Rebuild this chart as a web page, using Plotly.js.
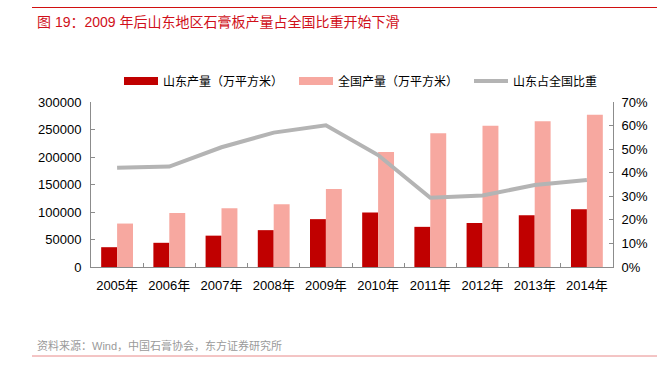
<!DOCTYPE html>
<html>
<head>
<meta charset="utf-8">
<script src="https://cdn.plot.ly/plotly-3.0.1.min.js"></script>
<style>
  html, body { margin: 0; padding: 0; background: #fff; }
  #chart { width: 657px; height: 371px; }
</style>
</head>
<body>
<div id="chart"></div>
<script>
// ---- data ----
const years = ['2005年', '2006年', '2007年', '2008年', '2009年', '2010年', '2011年', '2012年', '2013年', '2014年'];
const shandongOutput = [36000, 44000, 57000, 67000, 87000, 99000, 73000, 80000, 94000, 105000];
const nationalOutput = [79000, 98000, 107000, 114000, 142000, 209000, 243000, 257000, 265000, 277000];
const shandongShare = [0.421, 0.426, 0.508, 0.570, 0.601, 0.475, 0.294, 0.303, 0.348, 0.369];
const seriesNames = ['山东产量（万平方米）', '全国产量（万平方米）', '山东占全国比重'];
const titleText = '图 19：2009 年后山东地区石膏板产量占全国比重开始下滑';
const sourceText = '资料来源：Wind，中国石膏协会，东方证券研究所';

const RED = '#c00000';
const PINK = '#f7a8a0';
const GREY = '#b4b4b4';
const FONT = 'Liberation Sans, Arial, Noto Sans CJK SC, sans-serif';

const traces = [
  { type: 'bar', x: years, y: shandongOutput, name: seriesNames[0], marker: { color: RED }, showlegend: false, hoverinfo: 'skip' },
  { type: 'bar', x: years, y: nationalOutput, name: seriesNames[1], marker: { color: PINK }, showlegend: false, hoverinfo: 'skip' },
  { type: 'scatter', mode: 'lines', x: years, y: shandongShare, yaxis: 'y2', name: seriesNames[2], line: { color: GREY, width: 4 }, showlegend: false, hoverinfo: 'skip' },
  // legend-only entries
  { type: 'scatter', mode: 'lines', x: [null], y: [null], name: seriesNames[0], line: { color: RED, width: 8 } },
  { type: 'scatter', mode: 'lines', x: [null], y: [null], name: seriesNames[1], line: { color: PINK, width: 8 } },
  { type: 'scatter', mode: 'lines', x: [null], y: [null], name: seriesNames[2], line: { color: GREY, width: 4 } }
];

const L = 91, R = 44, T = 102, B = 104, W = 657, H = 371;
const pw = W - L - R, ph = H - T - B;
const px = v => (v - L) / pw;
const py = v => (H - B - v) / ph;

const axisCommon = {
  showgrid: false, zeroline: false,
  showline: true, linecolor: '#8c8c8c', linewidth: 1,
  ticks: 'inside', ticklen: 4, tickcolor: '#8c8c8c',
  tickfont: { size: 13, color: '#000' }, fixedrange: true
};

const layout = {
  width: W, height: H,
  margin: { l: L, r: R, t: T, b: B, pad: 0 },
  paper_bgcolor: '#fff', plot_bgcolor: '#fff',
  font: { family: FONT, size: 13, color: '#000' },
  barmode: 'group', bargap: 0.39, bargroupgap: 0,
  xaxis: Object.assign({}, axisCommon, { type: 'category', tickson: 'boundaries', ticklabelstandoff: 6 }),
  yaxis: Object.assign({}, axisCommon, { range: [0, 300000], dtick: 50000, tickformat: 'd', ticklabelstandoff: 6 }),
  yaxis2: Object.assign({}, axisCommon, { overlaying: 'y', side: 'right', range: [0, 0.7], dtick: 0.1, tickformat: '.0%', ticklabelstandoff: 5 }),
  legend: {
    orientation: 'h', x: px(119), xanchor: 'left', y: py(81), yanchor: 'middle',
    font: { size: 12, color: '#000' }, itemwidth: 34,
    entrywidth: 126, entrywidthmode: 'pixels',
    bgcolor: 'rgba(0,0,0,0)', tracegroupgap: 0
  },
  shapes: [
    { type: 'line', xref: 'paper', yref: 'paper', x0: px(32), x1: px(657), y0: py(7.5), y1: py(7.5), line: { color: '#d01010', width: 1 } },
    { type: 'line', xref: 'paper', yref: 'paper', x0: px(32), x1: px(657), y0: py(356), y1: py(356), line: { color: '#e88a8a', width: 1 } }
  ],
  annotations: [
    { xref: 'paper', yref: 'paper', x: px(35), y: py(22), xanchor: 'left', yanchor: 'middle', showarrow: false,
      text: titleText, font: { family: FONT, size: 14, color: '#d0101a' } },
    { xref: 'paper', yref: 'paper', x: px(35), y: py(345), xanchor: 'left', yanchor: 'middle', showarrow: false,
      text: sourceText, font: { size: 11, color: '#9a9a9a' } }
  ]
};

Plotly.newPlot('chart', traces, layout, { displayModeBar: false, staticPlot: true });
</script>
</body>
</html>
